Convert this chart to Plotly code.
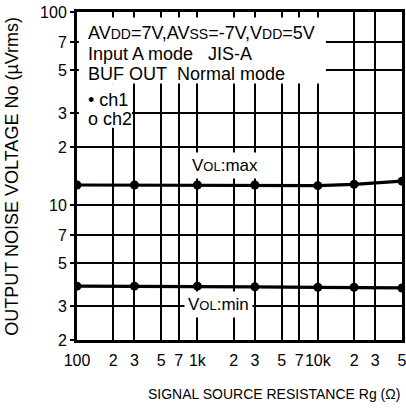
import plotly.graph_objects as go

# ---- data ----
rg_ohm = [100, 300, 1000, 3000, 10000, 20000, 50000]
vol_max_uv = [12.7, 12.7, 12.7, 12.7, 12.6, 12.8, 13.3]
vol_min_uv = [3.8, 3.8, 3.8, 3.77, 3.75, 3.75, 3.72]

x_tickvals = [100, 200, 300, 500, 700, 1000, 2000, 3000, 5000, 7000, 10000, 20000, 30000, 50000]
x_ticktext = ["100", "2", "3", "5", "7", "1k", "2", "3", "5", "7", "10k", "2", "3", "5"]
y_tickvals = [2, 3, 5, 7, 10, 20, 30, 50, 70, 100]
y_ticktext = ["2", "3", "5", "7", "10", "2", "3", "5", "7", "100"]

FONT = "Arial, Liberation Sans, sans-serif"

fig = go.Figure()
for name, vals in [("VOL:max", vol_max_uv), ("VOL:min", vol_min_uv)]:
    fig.add_trace(go.Scatter(
        x=rg_ohm, y=vals, mode="lines+markers", name=name,
        line=dict(color="black", width=3.2),
        marker=dict(color="black", size=9, symbol="circle"),
        showlegend=False, hoverinfo="skip",
    ))

fig.update_layout(
    width=406, height=412,
    margin=dict(l=77, r=4, t=12, b=72, autoexpand=False),
    paper_bgcolor="white", plot_bgcolor="white",
    font=dict(family=FONT, color="black", size=16),
)
fig.update_xaxes(
    type="log", range=[2, 4.6989705],
    tickvals=x_tickvals, ticktext=x_ticktext, tickangle=0,
    showgrid=True, gridcolor="black", gridwidth=1.8,
    showline=True, linecolor="black", linewidth=3, mirror=True,
    ticks="", ticklabelstandoff=4, automargin=False, ticklabeloverflow="allow",
    tickfont=dict(size=16, family=FONT),
    zeroline=False,
)
fig.update_yaxes(
    type="log", range=[0.3010299, 2.0000001],
    tickvals=y_tickvals, ticktext=y_ticktext,
    showgrid=True, gridcolor="black", gridwidth=1.8,
    showline=True, linecolor="black", linewidth=3, mirror=True,
    ticks="outside", ticklen=4, tickwidth=2, tickcolor="black",
    tickfont=dict(size=16, family=FONT), automargin=False, ticklabeloverflow="allow",
    zeroline=False,
)

# white areas behind the condition text (grid interrupted)
fig.add_shape(type="rect", xref="paper", yref="paper", x0=0.006, x1=0.766, y0=0.782, y1=0.983,
              fillcolor="white", line=dict(width=0), layer="above")
fig.add_shape(type="rect", xref="paper", yref="paper", x0=0.006, x1=0.169, y0=0.647, y1=0.783,
              fillcolor="white", line=dict(width=0), layer="above")

small = "font-size:14px"
cond_lines = [
    (0.937, f"AV<span style='{small}'>DD</span>=7V,AV<span style='{small}'>SS</span>=-7V,V<span style='{small}'>DD</span>=5V"),
    (0.873, "Input A mode\u00a0\u00a0\u00a0JIS-A"),
    (0.812, "BUF OUT\u00a0\u00a0Normal mode"),
    (0.733, "• ch1"),
    (0.675, "o ch2"),
]
for yp, txt in cond_lines:
    fig.add_annotation(xref="paper", yref="paper", x=0.027, y=yp, text=txt,
                       showarrow=False, xanchor="left", yanchor="middle",
                       font=dict(size=18, family=FONT, color="black"))

fig.add_annotation(xref="paper", yref="paper", x=0.454, y=0.531,
                   text="V<span style='font-size:13px'>OL</span>:max", showarrow=False,
                   xanchor="center", yanchor="middle", bgcolor="white", borderpad=3,
                   font=dict(size=17, family=FONT, color="black"))
fig.add_annotation(xref="paper", yref="paper", x=0.435, y=0.107,
                   text="V<span style='font-size:13px'>OL</span>:min", showarrow=False,
                   xanchor="center", yanchor="middle", bgcolor="white", borderpad=3,
                   font=dict(size=17, family=FONT, color="black"))

# axis titles
fig.add_annotation(xref="paper", yref="paper", x=1.0, y=-0.165,
                   text="SIGNAL SOURCE RESISTANCE Rg (Ω)", showarrow=False,
                   xanchor="right", yanchor="middle",
                   font=dict(size=14, family=FONT, color="black"))
fig.add_annotation(xref="paper", yref="paper", x=-0.2, y=0.498, textangle=-90,
                   text="OUTPUT NOISE VOLTAGE No (µVrms)", showarrow=False,
                   xanchor="center", yanchor="middle",
                   font=dict(size=18, family=FONT, color="black"))

fig.write_html("out.html", config={"displayModeBar": False},
               post_script="document.body.style.margin='0';document.body.style.overflow='hidden';")
